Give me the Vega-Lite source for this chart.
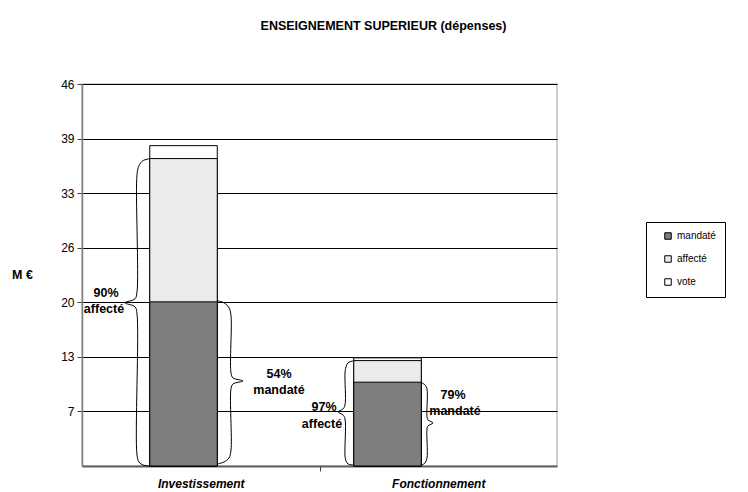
{
  "$schema": "https://vega.github.io/schema/vega-lite/v6.json",
  "width": 475,
  "height": 382,
  "autosize": {"type": "none"},
  "padding": {"left": 82, "top": 84, "right": 191, "bottom": 26},
  "background": "white",
  "title": {"text": "ENSEIGNEMENT SUPERIEUR (dépenses)", "frame": "group", "anchor": "middle", "dx": 64, "offset": 46, "fontSize": 12.5, "fontWeight": "bold", "font": "Liberation Sans", "color": "black"},
  "config": {
    "font": "Liberation Sans",
    "view": {"stroke": "#c0c0c0", "strokeWidth": 1.5}
  },
  "datasets": {
    "barres": [
      {"poste": "Investissement", "type": "vote", "montant": 38.45},
      {"poste": "Investissement", "type": "affecté", "montant": 36.9},
      {"poste": "Investissement", "type": "mandaté", "montant": 19.7},
      {"poste": "Fonctionnement", "type": "vote", "montant": 12.98},
      {"poste": "Fonctionnement", "type": "affecté", "montant": 12.65},
      {"poste": "Fonctionnement", "type": "mandaté", "montant": 10.06}
    ],
    "accolades": [
      {"b": "b1", "k": 0, "bx": 0.2863, "montant": 36.89},
      {"b": "b1", "k": 1, "bx": 0.2568, "montant": 36.65},
      {"b": "b1", "k": 2, "bx": 0.2400, "montant": 36.05},
      {"b": "b1", "k": 3, "bx": 0.2316, "montant": 34.97},
      {"b": "b1", "k": 4, "bx": 0.2316, "montant": 20.91},
      {"b": "b1", "k": 5, "bx": 0.2232, "montant": 20.07},
      {"b": "b1", "k": 6, "bx": 0.1811, "montant": 19.59},
      {"b": "b1", "k": 7, "bx": 0.2232, "montant": 19.11},
      {"b": "b1", "k": 8, "bx": 0.2316, "montant": 18.26},
      {"b": "b1", "k": 9, "bx": 0.2316, "montant": 1.32},
      {"b": "b1", "k": 10, "bx": 0.2400, "montant": 0.48},
      {"b": "b1", "k": 11, "bx": 0.2568, "montant": 0.12},
      {"b": "b1", "k": 12, "bx": 0.2863, "montant": 0},
      {"b": "b2", "k": 0, "bx": 0.5684, "montant": 19.83},
      {"b": "b2", "k": 1, "bx": 0.5979, "montant": 19.59},
      {"b": "b2", "k": 2, "bx": 0.6189, "montant": 18.99},
      {"b": "b2", "k": 3, "bx": 0.6274, "montant": 18.02},
      {"b": "b2", "k": 4, "bx": 0.6274, "montant": 11.18},
      {"b": "b2", "k": 5, "bx": 0.6358, "montant": 10.57},
      {"b": "b2", "k": 6, "bx": 0.6779, "montant": 10.21},
      {"b": "b2", "k": 7, "bx": 0.6358, "montant": 9.85},
      {"b": "b2", "k": 8, "bx": 0.6274, "montant": 9.25},
      {"b": "b2", "k": 9, "bx": 0.6274, "montant": 1.92},
      {"b": "b2", "k": 10, "bx": 0.6189, "montant": 0.96},
      {"b": "b2", "k": 11, "bx": 0.5979, "montant": 0.48},
      {"b": "b2", "k": 12, "bx": 0.5684, "montant": 0.24},
      {"b": "b3", "k": 0, "bx": 1.1411, "montant": 12.62},
      {"b": "b3", "k": 1, "bx": 1.1200, "montant": 12.38},
      {"b": "b3", "k": 2, "bx": 1.1116, "montant": 11.90},
      {"b": "b3", "k": 3, "bx": 1.1074, "montant": 11.18},
      {"b": "b3", "k": 4, "bx": 1.1074, "montant": 7.33},
      {"b": "b3", "k": 5, "bx": 1.0989, "montant": 6.85},
      {"b": "b3", "k": 6, "bx": 1.0779, "montant": 6.49},
      {"b": "b3", "k": 7, "bx": 1.0989, "montant": 6.13},
      {"b": "b3", "k": 8, "bx": 1.1074, "montant": 5.65},
      {"b": "b3", "k": 9, "bx": 1.1074, "montant": 1.20},
      {"b": "b3", "k": 10, "bx": 1.1116, "montant": 0.60},
      {"b": "b3", "k": 11, "bx": 1.1200, "montant": 0.24},
      {"b": "b3", "k": 12, "bx": 1.1411, "montant": 0.12},
      {"b": "b4", "k": 0, "bx": 1.4316, "montant": 9.97},
      {"b": "b4", "k": 1, "bx": 1.4442, "montant": 9.73},
      {"b": "b4", "k": 2, "bx": 1.4526, "montant": 9.25},
      {"b": "b4", "k": 3, "bx": 1.4526, "montant": 5.89},
      {"b": "b4", "k": 4, "bx": 1.4568, "montant": 5.53},
      {"b": "b4", "k": 5, "bx": 1.4779, "montant": 5.17},
      {"b": "b4", "k": 6, "bx": 1.4568, "montant": 4.81},
      {"b": "b4", "k": 7, "bx": 1.4526, "montant": 4.45},
      {"b": "b4", "k": 8, "bx": 1.4526, "montant": 0.96},
      {"b": "b4", "k": 9, "bx": 1.4442, "montant": 0.36},
      {"b": "b4", "k": 10, "bx": 1.4316, "montant": 0.12}
    ],
    "notes": [
      {"t": "90%", "nx": 0.1011, "montant": 20.79},
      {"t": "affecté", "nx": 0.0926, "montant": 18.87},
      {"t": "54%", "nx": 0.8295, "montant": 11.06},
      {"t": "mandaté", "nx": 0.8295, "montant": 9.13},
      {"t": "97%", "nx": 1.0189, "montant": 7.09},
      {"t": "affecté", "nx": 1.0105, "montant": 5.05},
      {"t": "79%", "nx": 1.5621, "montant": 8.53},
      {"t": "mandaté", "nx": 1.5705, "montant": 6.61}
    ]
  },
  "layer": [
    {
      "data": {"name": "barres"},
      "mark": {"type": "bar", "stroke": "black", "strokeWidth": 1},
      "encoding": {
        "x": {
          "field": "poste", "type": "nominal", "sort": ["Investissement", "Fonctionnement"],
          "scale": {"paddingInner": 0.669, "paddingOuter": 0.4987, "align": 0.333},
          "axis": {
            "title": null, "orient": "bottom", "ticks": false, "grid": false, "labels": false,
            "domainColor": "#606060", "domainWidth": 2
          }
        },
        "y": {
          "field": "montant", "type": "quantitative", "stack": null,
          "scale": {"domain": [0, 45.85], "nice": false, "zero": true},
          "axis": {
            "title": "M €", "titleAngle": 0, "titleX": -60, "titleY": 190, "titleAlign": "center", "titleBaseline": "middle",
            "titleFontSize": 12.5, "titleFontWeight": "bold", "titleColor": "black", "titleFont": "Liberation Sans",
            "values": [6.55, 13.1, 19.65, 26.2, 32.75, 39.3, 45.85], "format": ".0f",
            "grid": true, "gridColor": "black", "gridWidth": 1, "gridOpacity": 1,
            "domainColor": "#808080", "domainWidth": 1.5,
            "tickColor": "#404040", "tickSize": 5,
            "labelFontSize": 12, "labelColor": "black", "labelPadding": 3, "labelFont": "Liberation Sans"
          }
        },
        "color": {
          "field": "type", "type": "nominal",
          "scale": {"domain": ["mandaté", "affecté", "vote"], "range": ["#7e7e7e", "#ebebeb", "#ffffff"]},
          "legend": {
            "orient": "none", "legendX": 564, "legendY": 138, "title": null,
            "strokeColor": "black", "fillColor": "white", "padding": 9,
            "symbolType": "square", "symbolSize": 42, "symbolStrokeColor": "black", "symbolStrokeWidth": 1,
            "symbolOffset": 8, "labelFontSize": 10, "labelColor": "black", "labelFont": "Liberation Sans",
            "rowPadding": 11
          }
        }
      }
    },
    {
      "data": {"name": "accolades"},
      "mark": {"type": "line", "color": "black", "strokeWidth": 1, "interpolate": "catmull-rom"},
      "encoding": {
        "x": {
          "field": "bx", "type": "quantitative",
          "scale": {"domain": [0, 2], "nice": false, "zero": false},
          "axis": {"orient": "bottom", "values": [1], "labels": false, "domain": false, "grid": false, "ticks": true, "tickSize": 5, "tickColor": "#404040", "title": null}
        },
        "y": {"field": "montant", "type": "quantitative", "scale": {"domain": [0, 45.85], "nice": false}},
        "detail": {"field": "b", "type": "nominal"},
        "order": {"field": "k", "type": "quantitative"}
      }
    },
    {
      "data": {"name": "notes"},
      "mark": {"type": "text", "fontWeight": "bold", "fontSize": 12.5, "align": "center", "baseline": "middle", "color": "black", "font": "Liberation Sans"},
      "encoding": {
        "x": {
          "field": "nx", "type": "quantitative", "scale": {"domain": [0, 2], "nice": false, "zero": false},
          "axis": {
            "orient": "bottom", "values": [0.5, 1.5], "labelExpr": "datum.value < 1 ? 'Investissement' : 'Fonctionnement'",
            "ticks": false, "domain": false, "grid": false, "title": null,
            "labelAngle": 0, "labelFont": "Liberation Sans", "labelFontSize": 12, "labelFontWeight": "bold",
            "labelFontStyle": "italic", "labelColor": "black", "labelPadding": 12, "labelFlush": false, "labelOverlap": false
          }
        },
        "y": {"field": "montant", "type": "quantitative", "scale": {"domain": [0, 45.85], "nice": false}},
        "text": {"field": "t", "type": "nominal"}
      }
    }
  ],
  "resolve": {"scale": {"x": "independent"}, "axis": {"x": "independent"}}
}
